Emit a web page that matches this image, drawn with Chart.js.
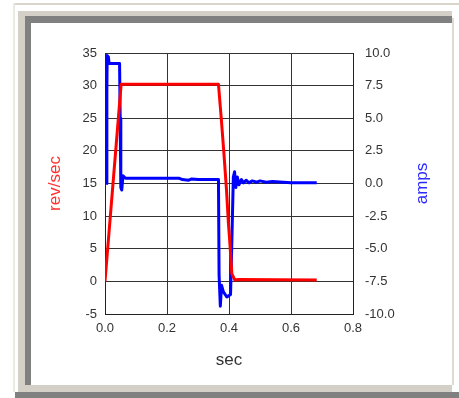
<!DOCTYPE html>
<html lang="en">
<head>
  <meta charset="UTF-8">
  <title>rev/sec and amps</title>
  <script src="https://cdn.jsdelivr.net/npm/chart.js"></script>
  <style>
    html, body { margin:0; padding:0; background:#fff; }
    .wrap { position:relative; width:459px; height:398px; overflow:hidden; }
    .topline { position:absolute; left:13px; top:3px; width:446px; height:2px; background:#d8d5cb; }
    .leftline { position:absolute; left:13px; top:3px; width:2px; height:389px; background:#ebe9e3; }
    .panel { position:absolute; left:18px; top:11px; width:434px; height:381px; background:#d4d0c8; }
    .bevel { position:absolute; left:25px; top:16px; width:427px; height:369px; background:#808080; }
    .inner { position:absolute; left:31px; top:23px; width:421px; height:362px; background:#fff; }
    .rightline { position:absolute; left:452px; top:18px; width:2px; height:367px; background:#dcdad4; }
    .bottomband { position:absolute; left:15px; top:392px; width:444px; height:6px; background:#808080; }
    canvas { position:absolute; left:0; top:0; }
  </style>
</head>
<body>
  <div class="wrap">
    <div class="topline"></div>
    <div class="leftline"></div>
    <div class="panel"></div>
    <div class="bevel"></div>
    <div class="inner"></div>
    <div class="rightline"></div>
    <div class="bottomband"></div>
    <canvas id="motor" width="459" height="398"></canvas>
  </div>

  <script>
    // speed of the motor (left axis)
    const revTime  = [0, 0.052, 0.366, 0.375, 0.383, 0.392, 0.398, 0.403, 0.409, 0.419, 0.43, 0.683];
    const revValue = [0, 30.2, 30.2, 25, 20, 14, 9, 5.8, 1.2, 0.2, 0.3, 0.2];

    // current (right axis)
    const ampTime  = [0.004, 0.006, 0.007, 0.011, 0.013, 0.047, 0.049, 0.051, 0.054, 0.058, 0.062, 0.066,
                      0.24, 0.25, 0.27, 0.28, 0.30, 0.366, 0.368, 0.372, 0.376, 0.382, 0.393, 0.405,
                      0.409, 0.414, 0.418, 0.422, 0.427, 0.432, 0.44, 0.447, 0.455, 0.465, 0.475,
                      0.49, 0.5, 0.52, 0.54, 0.6, 0.683];
    const ampValue = [0, 7, 9.8, 9.7, 9.2, 9.2, 5, -0.3, -0.5, 0.6, 0.5, 0.4,
                      0.4, 0.3, 0.25, 0.35, 0.3, 0.3, -7, -9.4, -7.8, -8.3, -8.7, -8.5,
                      -4.6, 0.5, 0.9, -0.3, 0.5, -0.1, 0.3, 0.05, 0.25, 0.05, 0.2,
                      0.1, 0.2, 0.1, 0.15, 0.05, 0.05];

    const xTitle = 'sec';
    const leftTitle = 'rev/sec';
    const rightTitle = 'amps';

    const fam = '"Liberation Sans", Arial, sans-serif';
    const pts = (ts, vs) => ts.map((t, i) => ({ x: t, y: vs[i] }));

    // right axis title reads bottom-to-top like the left one
    const rightTitlePlugin = {
      id: 'rightTitle',
      afterDraw(chart) {
        const ctx = chart.ctx, s = chart.scales.y1;
        ctx.save();
        ctx.translate(422, (s.top + s.bottom) / 2);
        ctx.rotate(-Math.PI / 2);
        ctx.font = '17px ' + fam;
        ctx.fillStyle = '#2a2aff';
        ctx.textAlign = 'center';
        ctx.textBaseline = 'middle';
        ctx.fillText(rightTitle, 0, 0);
        ctx.restore();
      }
    };

    new Chart(document.getElementById('motor').getContext('2d'), {
      type: 'line',
      data: {
        datasets: [
          { data: pts(revTime, revValue), borderColor: '#ff0000', borderWidth: 3, borderJoinStyle: 'round',
            pointRadius: 0, tension: 0, yAxisID: 'y' },
          { data: pts(ampTime, ampValue), borderColor: '#0000ff', borderWidth: 3, borderJoinStyle: 'round',
            pointRadius: 0, tension: 0, yAxisID: 'y1' }
        ]
      },
      options: {
        responsive: false,
        animation: false,
        layout: { padding: { top: 53, left: 0, right: 0, bottom: 0 } },
        plugins: { legend: { display: false }, tooltip: { enabled: false } },
        scales: {
          x: {
            type: 'linear', min: 0, max: 0.8,
            afterFit: s => { s.height = 84; },
            grid: { color: '#333', drawTicks: false },
            border: { color: '#222' },
            ticks: { stepSize: 0.2, padding: 7, color: '#333', font: { family: fam, size: 13 },
                     callback: v => v.toFixed(1), maxRotation: 0 },
            title: { display: true, text: xTitle, color: '#333', font: { family: fam, size: 17 }, padding: { bottom: 27, top: 0 } }
          },
          y: {
            position: 'left', min: -5, max: 35,
            afterFit: s => { s.width = 105; },
            grid: { color: '#333', drawTicks: false },
            border: { color: '#222' },
            ticks: { stepSize: 5, padding: 8, color: '#333', font: { family: fam, size: 13 } },
            title: { display: true, text: leftTitle, color: '#ff3030', font: { family: fam, size: 17 }, padding: { top: 45, bottom: 0 } }
          },
          y1: {
            position: 'right', min: -10, max: 10,
            afterFit: s => { s.width = 106; },
            grid: { display: false, drawTicks: false },
            border: { color: '#222' },
            ticks: { stepSize: 2.5, padding: 12, color: '#333', font: { family: fam, size: 13 },
                     callback: v => v.toFixed(1) }
          }
        }
      },
      plugins: [rightTitlePlugin]
    });
  </script>
</body>
</html>
